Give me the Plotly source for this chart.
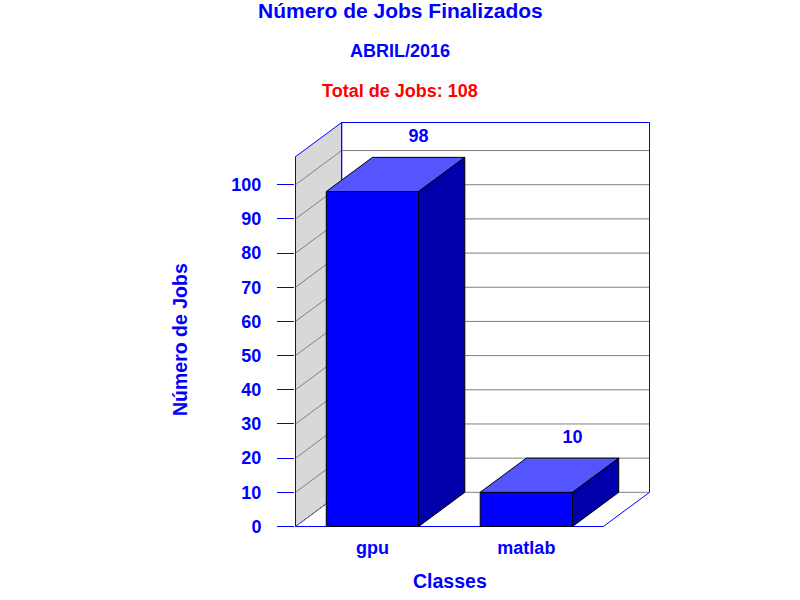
import plotly.graph_objects as go

categories = ["gpu", "matlab"]
jobs = [98, 10]
y_ticks = [0, 10, 20, 30, 40, 50, 60, 70, 80, 90, 100]
title_main = "Número de Jobs Finalizados"
title_month = "ABRIL/2016"
title_total = "Total de Jobs: 108"
x_title = "Classes"
y_title = "Número de Jobs"

BLUE = "#0000FF"
FONT = "Liberation Sans"
W, H = 800, 600
# plot rectangle in page pixels
P_L, P_R, P_T, P_B = 295, 650, 122, 527
plot_w, plot_h = P_R - P_L, P_B - P_T

pos = list(range(len(categories)))
x_lo, dx = -0.5, 0.3           # wall position / depth in x units
x_hi = len(categories) - 0.5   # front edge of floor
dy = 10                        # depth in y units
y_top = 108.2                  # top of front wall
bar_w = 0.6
sx = (plot_w - 1) / (x_hi + dx - x_lo)
sy = (plot_h - 1) / (y_top + dy)


def bold(size, color=BLUE):
    return dict(family=FONT, size=size, color=color, weight="bold")


fig = go.Figure()


def poly(xs, ys, fill=None, line=None, axes=("x", "y"), width=1):
    fig.add_trace(go.Scatter(
        x=xs, y=ys, mode="lines", xaxis=axes[0], yaxis=axes[1],
        fill="toself" if fill else "none", fillcolor=fill,
        line=dict(color=line, width=width), hoverinfo="skip", showlegend=False))


# left wall
poly([x_lo, x_lo, x_lo + dx, x_lo + dx, x_lo],
     [0, y_top, y_top + dy, dy, 0], fill="#D8D8D8", line=BLUE)
# grid on wall and back plane
for t in y_ticks:
    poly([x_lo, x_lo + dx, x_hi + dx], [t, t + dy, t + dy], line="#808080")
# back plane border
poly([x_lo + dx, x_hi + dx, x_hi + dx], [y_top + dy, y_top + dy, dy], line=BLUE)
poly([x_lo + dx, x_lo + dx], [dy, y_top + dy], line=BLUE)
# floor front and right edges
poly([x_lo, x_hi, x_hi + dx], [0, 0, dy], line=BLUE)
poly([x_lo, x_lo], [0, y_top], line=BLUE)

# bars, on an overlaying pair of axes so they sit above the walls
fig.add_trace(go.Bar(
    x=pos, y=jobs, width=bar_w, xaxis="x2", yaxis="y2",
    marker=dict(color=BLUE, line=dict(color="#000000", width=1)),
    hoverinfo="skip", showlegend=False))
for p, v in zip(pos, jobs):
    xl, xr = p - bar_w / 2, p + bar_w / 2
    poly([xl, xl + dx, xr + dx, xr, xl], [v, v + dy, v + dy, v, v],
         fill="#5555FF", line="#000000", axes=("x2", "y2"))
    poly([xr, xr + dx, xr + dx, xr, xr], [0, dy, v + dy, v, 0],
         fill="#0000AA", line="#000000", axes=("x2", "y2"))

# value labels
fig.add_trace(go.Scatter(
    x=[p + dx for p in pos], y=[v + dy + 5.8 for v in jobs],
    text=[str(v) for v in jobs], mode="text", textposition="middle center",
    textfont=bold(18), xaxis="x2", yaxis="y2", hoverinfo="skip", showlegend=False))

xrange = [x_lo - 0.5 / sx, x_hi + dx + 0.5 / sx]
yrange = [-0.5 / sy, y_top + dy + 0.5 / sy]


def px(x):
    return (x - P_L) / plot_w


def py(y):
    return (P_B - y) / plot_h


def note(text, x, y, font, angle=0):
    return dict(text=text, xref="paper", yref="paper", x=px(x), y=py(y),
                xanchor="center", yanchor="middle", showarrow=False,
                font=font, textangle=angle)


fig.update_layout(
    width=W, height=H, autosize=False,
    margin=dict(l=P_L, r=W - P_R, t=P_T, b=H - P_B),
    paper_bgcolor="white", plot_bgcolor="white",
    showlegend=False,
    xaxis=dict(range=xrange, tickmode="array", tickvals=pos, ticktext=categories,
               showgrid=False, zeroline=False, showline=False, ticks="",
               tickfont=bold(18), ticklabelstandoff=8),
    yaxis=dict(range=yrange, tickmode="array", tickvals=y_ticks,
               showgrid=False, zeroline=False, showline=False,
               ticks="outside", ticklen=17, tickcolor=BLUE, tickwidth=1,
               tickfont=bold(18), ticklabelstandoff=12),
    xaxis2=dict(range=xrange, overlaying="x", visible=False),
    yaxis2=dict(range=yrange, overlaying="y", visible=False),
    annotations=[
        note(title_main, 400, 11, bold(21)),
        note(title_month, 400, 51, bold(18)),
        note(title_total, 400, 91, bold(18, "#FF0000")),
        note(x_title, 449.5, 581, bold(19.5)),
        note(y_title, 180, 340, bold(19.5), -90),
    ],
)

fig.write_html(
    "out.html",
    config={"displayModeBar": False},
    post_script="document.body.style.margin='0';document.documentElement.style.overflow='hidden';",
)
